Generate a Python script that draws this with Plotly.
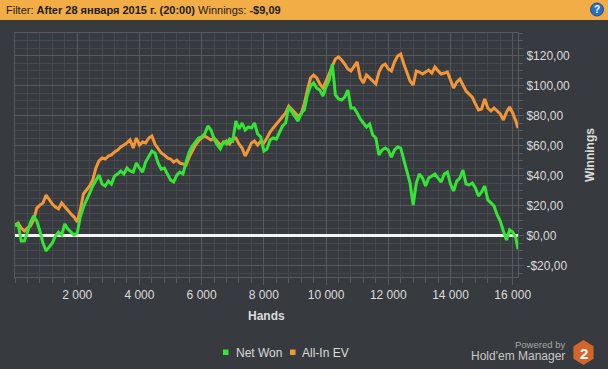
import plotly.graph_objects as go
import math

# ---------------- data ----------------
hands = [i * 100 for i in range(162)] + [16170]

all_in_ev = [
    7.0, 8.3, 5.0, 3.0, 5.0, 6.3, 10.3, 18.3, 20.3, 21.7,
    27.0, 24.0, 21.0, 19.0, 17.7, 21.7, 19.0, 16.3, 14.3, 12.3,
    9.0, 17.0, 27.7, 30.3, 33.0, 37.0, 45.0, 49.7, 51.7, 51.0,
    53.0, 53.7, 55.7, 57.0, 59.0, 60.3, 61.7, 63.7, 58.3, 65.0,
    60.3, 62.3, 61.7, 65.0, 66.3, 61.0, 58.3, 55.0, 53.7, 51.7,
    51.0, 49.0, 50.3, 48.3, 47.7, 47.0, 52.3, 56.3, 60.3, 63.0,
    65.0, 66.3, 65.0, 63.7, 65.0, 62.3, 60.3, 61.7, 63.0, 61.0,
    64.3, 65.0, 61.0, 58.3, 53.0, 57.0, 61.7, 63.0, 60.3, 63.0,
    61.7, 65.0, 69.0, 71.7, 74.3, 76.3, 79.0, 81.7, 86.3, 84.3,
    82.3, 79.7, 81.0, 87.7, 97.0, 105.0, 107.0, 105.0, 101.0, 98.3,
    103.0, 108.3, 113.7, 117.7, 119.0, 117.0, 114.3, 111.0, 109.7, 113.0,
    115.7, 105.0, 101.7, 107.0, 105.0, 103.0, 101.0, 109.0, 113.0, 114.3,
    111.0, 109.7, 115.7, 119.7, 121.0, 114.3, 108.3, 103.0, 100.3, 109.7,
    109.0, 107.7, 109.0, 110.3, 108.3, 112.3, 109.7, 107.7, 108.3, 109.0,
    103.7, 98.3, 102.3, 104.3, 100.3, 96.3, 94.3, 92.3, 87.7, 83.7,
    84.3, 91.0, 85.0, 83.0, 85.0, 83.0, 81.0, 77.0, 82.3, 85.7,
    81.7, 76.3, 71.7,
]

net_won = [
    6.3, 7.7, -3.7, -3.7, 2.3, 9.0, 13.0, 9.7, 3.0, -5.0,
    -10.3, -7.7, -5.0, -0.3, 2.3, 0.3, 7.7, 4.3, 2.3, 0.3,
    1.7, 12.3, 19.0, 24.3, 28.3, 33.0, 37.0, 40.3, 34.3, 33.0,
    36.3, 34.3, 39.7, 41.0, 43.0, 41.0, 45.0, 43.0, 42.3, 48.3,
    45.0, 42.3, 49.0, 53.0, 56.3, 55.0, 48.3, 44.3, 45.0, 41.0,
    37.0, 35.7, 40.3, 42.3, 41.0, 49.0, 55.7, 59.7, 62.3, 65.0,
    65.7, 67.7, 73.0, 70.3, 64.3, 60.3, 57.7, 62.3, 61.0, 64.3,
    63.0, 76.3, 71.0, 75.0, 70.3, 72.3, 71.7, 75.0, 67.7, 65.7,
    56.3, 57.7, 63.7, 65.0, 64.3, 69.0, 73.0, 75.0, 85.7, 82.3,
    79.0, 76.3, 81.7, 83.7, 93.7, 99.7, 101.7, 98.3, 97.0, 93.0,
    99.0, 103.7, 114.3, 93.7, 91.0, 90.3, 92.3, 97.0, 85.0, 85.0,
    81.7, 77.7, 75.0, 72.3, 74.3, 67.0, 65.0, 53.7, 57.0, 58.3,
    57.0, 52.3, 57.0, 59.0, 58.3, 50.3, 42.3, 35.0, 20.3, 35.0,
    41.0, 38.3, 33.0, 38.3, 39.7, 41.0, 38.3, 35.7, 41.0, 42.3,
    34.3, 29.7, 36.3, 38.3, 43.7, 34.3, 33.7, 35.0, 31.7, 26.3,
    29.0, 33.0, 23.7, 21.7, 19.7, 13.7, 9.7, 3.0, -3.0, 3.7,
    2.3, -1.7, -9.09,
]

series_names = ["Net Won", "All-In EV"]
x_tick_vals = [2000, 4000, 6000, 8000, 10000, 12000, 14000, 16000]
x_tick_text = ["2 000", "4 000", "6 000", "8 000", "10 000", "12 000", "14 000", "16 000"]
y_tick_vals = [-20, 0, 20, 40, 60, 80, 100, 120]
y_tick_text = ["-$20,00", "$0,00", "$20,00", "$40,00", "$60,00", "$80,00", "$100,00", "$120,00"]

# ---------------- style ----------------
BG = "#373a3e"
GREEN = "#35e535"
ORANGE = "#f39637"
TXT = "#dcdcdc"
FONT = "Liberation Sans"

W, H = 608, 369
ML, MR, MT, MB = 15, 90, 33, 92
PW, PH = W - ML - MR, H - MT - MB


def px(x):
    return (x - ML) / PW


def py(y):
    return (H - MB - y) / PH


fig = go.Figure()
fig.add_trace(go.Scatter(x=hands, y=all_in_ev, mode="lines", name=series_names[1],
                         line=dict(color=ORANGE, width=3), showlegend=False))
fig.add_trace(go.Scatter(x=hands, y=net_won, mode="lines", name=series_names[0],
                         line=dict(color=GREEN, width=3), showlegend=False))

shapes = []
# header bar
shapes.append(dict(type="rect", xref="paper", yref="paper",
                   x0=px(0), x1=px(W), y0=py(0), y1=py(20),
                   fillcolor="#f2ad47", line=dict(width=0), layer="below"))
# help icon
shapes.append(dict(type="circle", xref="paper", yref="paper",
                   x0=px(590.5), x1=px(603.5), y0=py(3), y1=py(16),
                   fillcolor="#2a6fc4", line=dict(color="#1b4f93", width=1)))
# legend squares
for x0, col in [(223, GREEN), (290, ORANGE)]:
    shapes.append(dict(type="rect", xref="paper", yref="paper",
                       x0=px(x0), x1=px(x0 + 5.5), y0=py(349.5), y1=py(355),
                       fillcolor=col, line=dict(width=0)))
# hexagon logo
cx, cy, r = 583.5, 352.5, 12.5
pts = []
for k in range(6):
    a = math.radians(90 + 60 * k)
    pts.append((px(cx + r * math.cos(a) * 0.93), py(cy - r * math.sin(a))))
path = "M " + " L ".join(f"{a:.5f},{b:.5f}" for a, b in pts) + " Z"
shapes.append(dict(type="path", xref="paper", yref="paper", path=path,
                   fillcolor="#d3652b", line=dict(width=0)))

annotations = [
    dict(x=px(4), y=py(10), xref="paper", yref="paper", xanchor="left", yanchor="middle",
         text="Filter: <b>After 28 января 2015 г. (20:00)</b> Winnings: <b>-$9,09</b>",
         showarrow=False, font=dict(family=FONT, size=11, color="#1c1c1c")),
    dict(x=px(597), y=py(9.5), xref="paper", yref="paper", xanchor="center", yanchor="middle",
         text="<b>?</b>", showarrow=False, font=dict(family=FONT, size=10, color="white")),
    dict(x=px(266), y=py(316), xref="paper", yref="paper", xanchor="center", yanchor="middle",
         text="<b>Hands</b>", showarrow=False, font=dict(family=FONT, size=12, color=TXT)),
    dict(x=px(590), y=py(155), xref="paper", yref="paper", xanchor="center", yanchor="middle",
         text="<b>Winnings</b>", textangle=-90, showarrow=False,
         font=dict(family=FONT, size=12, color=TXT)),
    dict(x=px(234), y=py(353), xref="paper", yref="paper", xanchor="left", yanchor="middle",
         text=series_names[0], showarrow=False, font=dict(family=FONT, size=12, color=TXT)),
    dict(x=px(300), y=py(353), xref="paper", yref="paper", xanchor="left", yanchor="middle",
         text=series_names[1], showarrow=False, font=dict(family=FONT, size=12, color=TXT)),
    dict(x=px(567), y=py(344), xref="paper", yref="paper", xanchor="right", yanchor="middle",
         text="Powered by", showarrow=False, font=dict(family=FONT, size=9.5, color="#a8a8a8")),
    dict(x=px(567), y=py(356), xref="paper", yref="paper", xanchor="right", yanchor="middle",
         text="Hold'em Manager", showarrow=False, font=dict(family=FONT, size=12, color="#c8c8c8")),
    dict(x=px(583.5), y=py(353), xref="paper", yref="paper", xanchor="center", yanchor="middle",
         text="<b>2</b>", showarrow=False, font=dict(family=FONT, size=15, color="white")),
]

grid_major = "#56595d"
grid_minor = "#45484c"

fig.update_layout(
    width=W, height=H,
    margin=dict(l=ML, r=MR, t=MT, b=MB, pad=0),
    paper_bgcolor=BG, plot_bgcolor=BG,
    font=dict(family=FONT, size=12, color=TXT),
    shapes=shapes, annotations=annotations,
    showlegend=False,
    xaxis=dict(range=[0, 16170], tickmode="array", tickvals=x_tick_vals, ticktext=x_tick_text,
               showgrid=True, gridcolor=grid_major, gridwidth=1,
               ticks="outside", ticklen=7, tickcolor=grid_major,
               minor=dict(dtick=400, tick0=0, showgrid=True, gridcolor=grid_minor,
                          ticks="outside", ticklen=5, tickcolor=grid_major),
               showline=True, linecolor=grid_major, mirror=True, zeroline=False,
               tickfont=dict(family=FONT, size=12, color=TXT)),
    yaxis=dict(range=[-27.67, 135], side="right", tickmode="array",
               tickvals=y_tick_vals, ticktext=y_tick_text,
               showgrid=True, gridcolor=grid_major, gridwidth=1,
               ticks="outside", ticklen=5, tickcolor=grid_major,
               minor=dict(dtick=5, tick0=0, showgrid=True, gridcolor=grid_minor,
                          ticks="outside", ticklen=4, tickcolor=grid_major),
               showline=True, linecolor=grid_major, mirror=True,
               zeroline=True, zerolinecolor="#f4f4f4", zerolinewidth=3,
               tickfont=dict(family=FONT, size=12, color=TXT)),
)

fig.write_html("out.html", config={"displayModeBar": False},
               post_script="document.body.style.margin='0';")
